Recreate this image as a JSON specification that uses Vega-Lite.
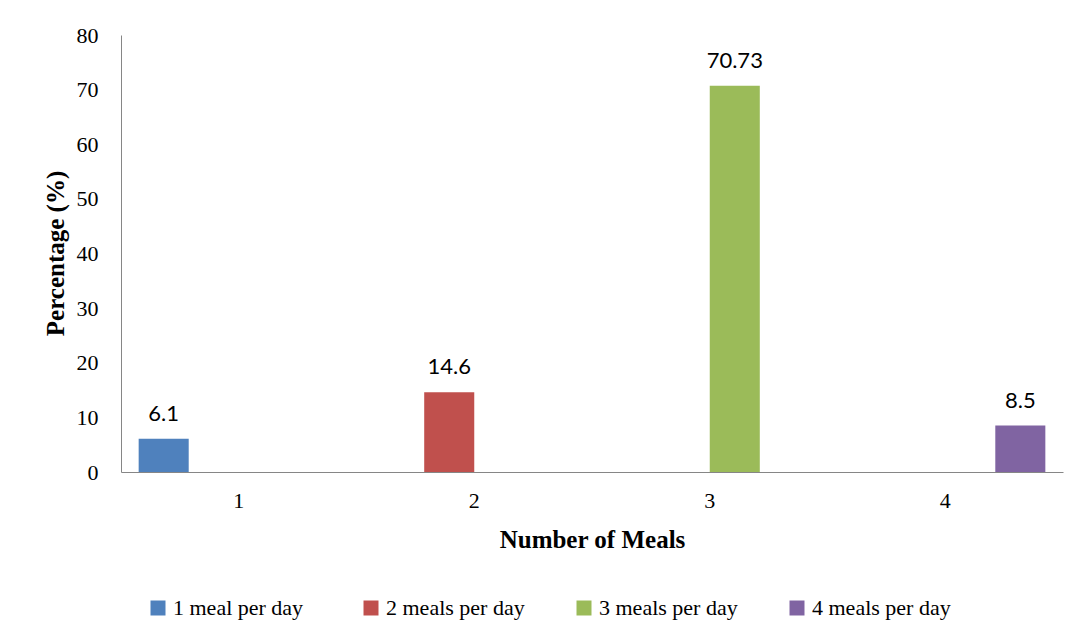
{
  "$schema": "https://vega.github.io/schema/vega-lite/v6.json",
  "width": 942,
  "height": 437,
  "autosize": {"type": "none"},
  "padding": {"left": 121, "top": 35, "right": 22, "bottom": 165},
  "background": "white",
  "data": {
    "values": [
      {"meals": "1", "series": "1 meal per day", "pct": 6.1, "label": "6.1"},
      {"meals": "2", "series": "2 meals per day", "pct": 14.6, "label": "14.6"},
      {"meals": "3", "series": "3 meals per day", "pct": 70.73, "label": "70.73"},
      {"meals": "4", "series": "4 meals per day", "pct": 8.5, "label": "8.5"}
    ]
  },
  "encoding": {
    "x": {
      "field": "meals",
      "type": "nominal",
      "title": "Number of Meals",
      "scale": {"paddingInner": 0.15, "paddingOuter": 0.075},
      "axis": {
        "labelAngle": 0,
        "ticks": false,
        "domainColor": "#868686",
        "labelFont": "Liberation Serif, Times New Roman, DejaVu Serif, serif",
        "labelFontSize": 22,
        "labelColor": "#000000",
        "labelPadding": 18,
        "titleFont": "Liberation Serif",
        "titleFontSize": 25,
        "titleFontWeight": "bold",
        "titleColor": "#000000",
        "titlePadding": 16
      }
    },
    "xOffset": {
      "field": "series",
      "type": "nominal",
      "sort": ["1 meal per day", "2 meals per day", "3 meals per day", "4 meals per day"],
      "scale": {"paddingInner": 0, "paddingOuter": 0}
    },
    "y": {
      "field": "pct",
      "type": "quantitative",
      "title": "Percentage (%)",
      "scale": {"domain": [0, 80]},
      "axis": {
        "values": [0, 10, 20, 30, 40, 50, 60, 70, 80],
        "grid": false,
        "ticks": false,
        "domainColor": "#868686",
        "labelFont": "Liberation Serif, Times New Roman, DejaVu Serif, serif",
        "labelFontSize": 22,
        "labelColor": "#000000",
        "labelPadding": 23,
        "titleFont": "Liberation Serif",
        "titleFontSize": 25,
        "titleFontWeight": "bold",
        "titleColor": "#000000",
        "titleX": -53,
        "titleY": 218
      }
    }
  },
  "layer": [
    {
      "mark": {"type": "bar"},
      "encoding": {
        "color": {
          "field": "series",
          "type": "nominal",
          "scale": {
            "domain": ["1 meal per day", "2 meals per day", "3 meals per day", "4 meals per day"],
            "range": ["#4F81BD", "#C0504D", "#9BBB59", "#8064A2"]
          },
          "legend": {
            "title": null,
            "orient": "none",
            "direction": "horizontal",
            "legendX": 26,
            "legendY": 562,
            "gridAlign": "all",
            "columnPadding": 48,
            "symbolType": "square",
            "symbolSize": 225,
            "symbolStrokeWidth": 0,
            "labelOffset": 4,
            "labelFont": "Liberation Serif, Times New Roman, DejaVu Serif, serif",
            "labelFontSize": 22,
            "labelColor": "#000000",
            "labelLimit": 400
          }
        }
      }
    },
    {
      "mark": {"type": "text", "baseline": "alphabetic", "dy": -18, "font": "Lato", "fontSize": 22, "color": "#000000"},
      "encoding": {
        "text": {"field": "label", "type": "nominal"}
      }
    }
  ],
  "config": {
    "view": {"stroke": null}
  }
}
